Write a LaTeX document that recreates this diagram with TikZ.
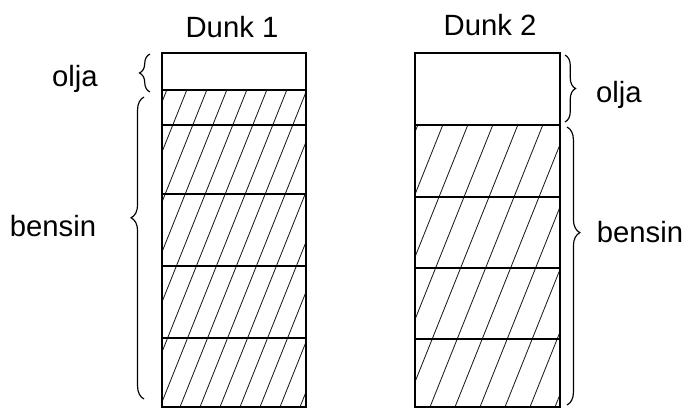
\documentclass[tikz,border=0pt]{standalone}
\usepackage{fontspec}
\setmainfont{Liberation Sans}
\usetikzlibrary{decorations.pathreplacing}

\begin{document}
\begin{tikzpicture}[x=0.3mm,y=-0.3mm,line width=1.1pt,
  lbl/.style={font=\fontsize{25}{30}\selectfont,inner sep=0pt,anchor=base},
  hatch/.style={line width=0.75pt,black!85},
  curly/.style={decorate,line width=1pt}]
\useasboundingbox (0,0) rectangle (690,412);

% Dunk 1
\coordinate (a1) at (162,53);
\coordinate (b1) at (306,407);
\begin{scope}
\clip (162,90) rectangle (b1);
\foreach \s in {20,40,...,320}
  \draw[hatch] (\s,407) -- ++(128,-320);
\end{scope}
\draw (a1) rectangle (b1);
\foreach \y in {90,125,194,266,338}
  \draw (162,\y) -- (306,\y);
\node[lbl] (dunk1) at (232,37) {Dunk 1};

% Dunk 2
\coordinate (a2) at (415,53);
\coordinate (b2) at (560,407);
\begin{scope}
\clip (415,125) rectangle (b2);
\foreach \s in {280,305,...,580}
  \draw[hatch] (\s,407) -- ++(120,-300);
\end{scope}
\draw (a2) rectangle (b2);
\foreach \y in {125,197,268,339}
  \draw (415,\y) -- (560,\y);
\node[lbl] (dunk2) at (490,35) {Dunk 2};

% klammer
\coordinate (o1s) at (150,92);
\coordinate (o1e) at (150,54);
\coordinate (b1s) at (144,399);
\coordinate (b1e) at (144,97);
\draw[curly,decoration={brace,amplitude=9pt}] (o1s) -- (o1e);
\draw[curly,decoration={brace,amplitude=11pt,aspect=0.6}] (b1s) -- (b1e);
\node[lbl] (olja1) at (75,86) {olja};
\node[lbl] (bensin1) at (53,236) {bensin};

\coordinate (o2s) at (565,55);
\coordinate (o2e) at (565,122);
\coordinate (b2s) at (567,127);
\coordinate (b2e) at (567,405);
\draw[curly,decoration={brace,amplitude=9pt}] (o2s) -- (o2e);
\draw[curly,decoration={brace,amplitude=11pt,aspect=0.38}] (b2s) -- (b2e);
\node[lbl] (olja2) at (619,102) {olja};
\node[lbl] (bensin2) at (640,242) {bensin};
\end{tikzpicture}
\end{document}
